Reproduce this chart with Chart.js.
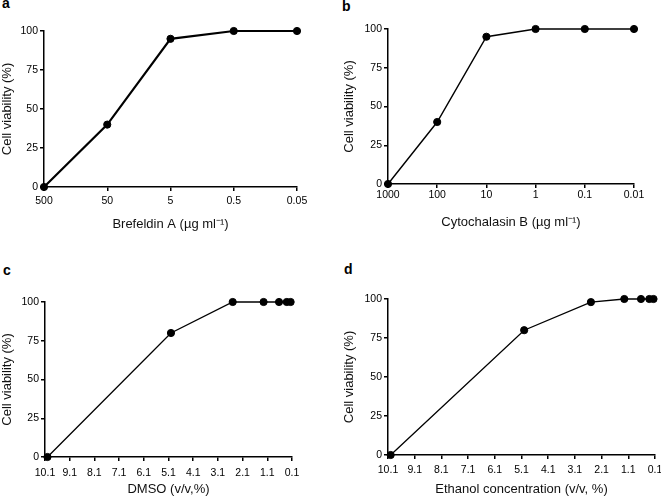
<!DOCTYPE html>
<html>
<head>
<meta charset="utf-8">
<script src="https://cdn.jsdelivr.net/npm/chart.js@4.4.1/dist/chart.umd.min.js"></script>
<style>
  html, body { margin: 0; padding: 0; background: #fff; overflow: hidden; width: 661px; height: 497px; }
  canvas { position: absolute; }
  .letter { position: absolute; font: bold 14px "Liberation Sans", Arial, sans-serif; color: #000; }
</style>
</head>
<body>
<div class="letter" style="left:2px; top:-5px">a</div>
<div class="letter" style="left:342px; top:-2px">b</div>
<div class="letter" style="left:3px; top:262px">c</div>
<div class="letter" style="left:344px; top:261px">d</div>
<canvas id="chartA" width="320" height="240" style="left:0; top:0"></canvas>
<canvas id="chartB" width="331" height="240" style="left:330px; top:0"></canvas>
<canvas id="chartC" width="330" height="247" style="left:0; top:250px"></canvas>
<canvas id="chartD" width="345" height="247" style="left:330px; top:250px"></canvas>
<script>
// Panel a: Brefeldin A (log dilutions, shown as categories)
const brefeldinDoses = ['500', '50', '5', '0.5', '0.05'];
const brefeldinViability = [0, 40, 95, 100, 100];

// Panel b: Cytochalasin B
const cytochalasinDoses = ['1000', '100', '10', '1', '0.1', '0.01'];
const cytochalasinViability = [0, 40, 95, 100, 100, 100];

// Panels c and d: solvent concentrations (v/v, %)
const solventConc = [10, 5, 2.5, 1.25, 0.625, 0.3125, 0.156];
const dmsoViability = [0, 80, 100, 100, 100, 100, 100];
const ethanolViability = [0, 80, 98, 100, 100, 100, 100];
const solventTicks = [10.1, 9.1, 8.1, 7.1, 6.1, 5.1, 4.1, 3.1, 2.1, 1.1, 0.1];

const viabilityTicks = [0, 25, 50, 75, 100];

const FONT = '"Liberation Sans", Arial, sans-serif';
const TICK_FONT = { family: FONT, size: 10.5 };

function buildPanel(id, p) {
  const ctx = document.getElementById(id);
  const isCategory = !!p.labels;
  const points = isCategory ? p.values : p.xs.map((x, i) => ({ x: x, y: p.values[i] }));

  const xScale = {
    type: isCategory ? 'category' : 'linear',
    offset: false,
    grid: { display: true, drawOnChartArea: false, drawTicks: true, tickLength: 4, color: '#000', lineWidth: 1.5 },
    border: { display: true, color: '#000', width: 1.5 },
    ticks: { color: '#000', font: TICK_FONT, padding: p.xTickPad, maxRotation: 0, autoSkip: false },
    title: { display: true, text: p.xTitle, color: '#111', font: { family: FONT, size: 13 }, padding: { top: 0, bottom: p.xTitlePad } },
    afterFit: scale => { scale.height = p.xHeight; }
  };
  if (!isCategory) {
    xScale.reverse = true;
    xScale.min = 0.1;
    xScale.max = 10.1;
    xScale.afterBuildTicks = scale => { scale.ticks = solventTicks.map(v => ({ value: v })); };
    xScale.ticks.callback = v => v.toFixed(1);
  }

  return new Chart(ctx.getContext('2d'), {
    type: 'line',
    data: {
      labels: isCategory ? p.labels : undefined,
      datasets: [{
        data: points,
        borderColor: '#000',
        backgroundColor: '#000',
        borderWidth: p.lineWidth,
        pointRadius: 3.6,
        pointBorderWidth: 1,
        pointBackgroundColor: '#000',
        pointBorderColor: '#000',
        tension: 0,
        clip: false
      }]
    },
    options: {
      responsive: false,
      animation: false,
      layout: { padding: { top: p.top, right: p.right, left: 0, bottom: 0 } },
      plugins: { legend: { display: false }, tooltip: { enabled: false } },
      scales: {
        x: xScale,
        y: {
          min: 0,
          max: 100,
          afterBuildTicks: scale => { scale.ticks = viabilityTicks.map(v => ({ value: v })); },
          grid: { display: true, drawOnChartArea: false, drawTicks: true, tickLength: 4, color: '#000', lineWidth: 1.5 },
          border: { display: true, color: '#000', width: 1.5 },
          ticks: { color: '#000', font: TICK_FONT, padding: 2 },
          title: { display: true, text: 'Cell viability (%)', color: '#111', font: { family: FONT, size: 13 }, padding: { top: p.yTitlePad, bottom: 0 } },
          afterFit: scale => { scale.width = p.yWidth; }
        }
      }
    }
  });
}

buildPanel('chartA', {
  labels: brefeldinDoses, values: brefeldinViability,
  xTitle: 'Brefeldin A (µg ml⁻¹)', lineWidth: 2.2,
  yWidth: 44, xHeight: 53, top: 31, right: 23, xTickPad: 4, xTitlePad: 8, yTitlePad: 0
});

buildPanel('chartB', {
  labels: cytochalasinDoses, values: cytochalasinViability,
  xTitle: 'Cytochalasin B (µg ml⁻¹)', lineWidth: 1.4,
  yWidth: 58, xHeight: 56, top: 29, right: 27, xTickPad: 1, xTitlePad: 10, yTitlePad: 12
});

buildPanel('chartC', {
  xs: solventConc, values: dmsoViability,
  xTitle: 'DMSO (v/v,%)', lineWidth: 1.3,
  yWidth: 45, xHeight: 40, top: 52, right: 38, xTickPad: 6, xTitlePad: 0, yTitlePad: 0
});

buildPanel('chartD', {
  xs: solventConc, values: ethanolViability,
  xTitle: 'Ethanol concentration (v/v, %)', lineWidth: 1.3,
  yWidth: 58, xHeight: 42, top: 49, right: 20, xTickPad: 5, xTitlePad: 0, yTitlePad: 12
});
</script>
</body>
</html>
